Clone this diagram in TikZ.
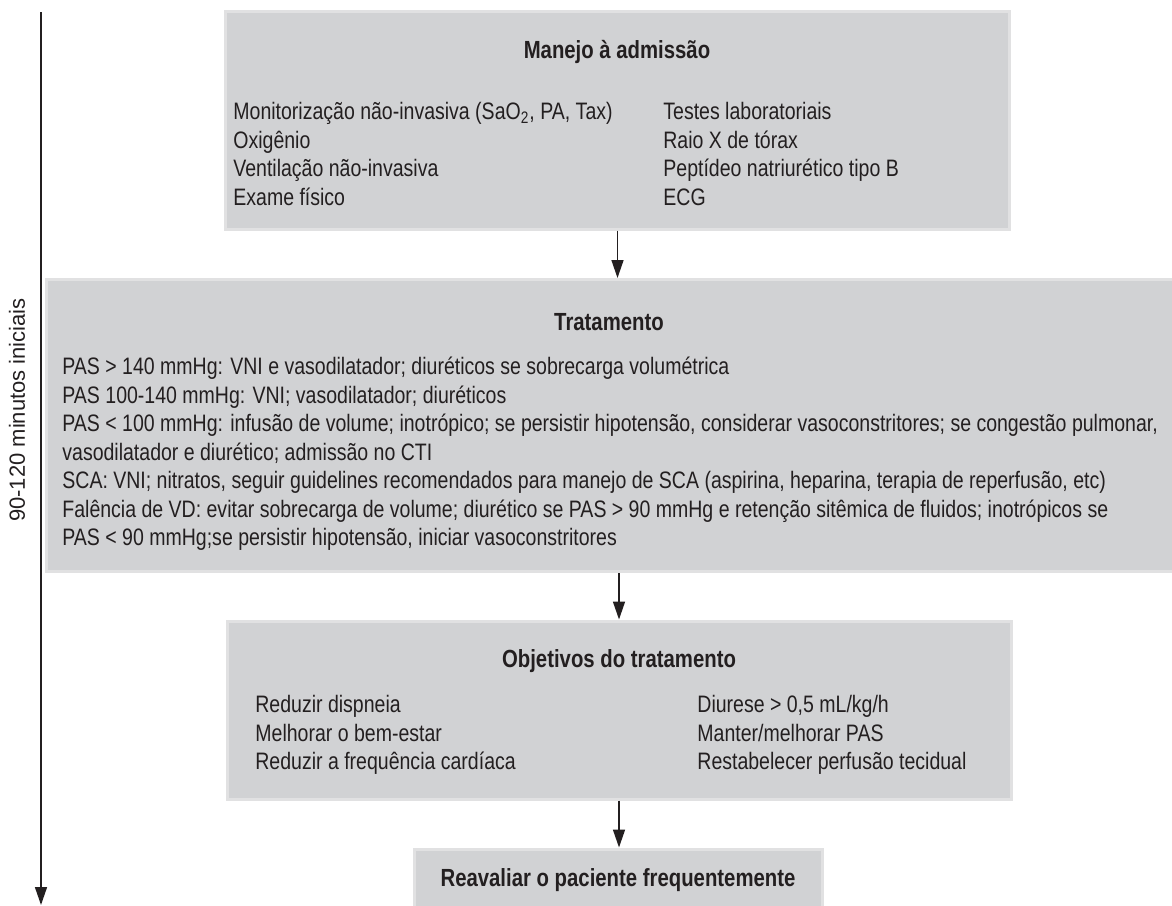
\documentclass[tikz,border=0pt]{standalone}
\usepackage{fontspec}
\setmainfont{Liberation Sans}[FakeStretch=0.82]
\newfontfamily\labelfont{Liberation Sans}
\usetikzlibrary{arrows.meta}
\definecolor{boxfill}{RGB}{209,210,212}
\definecolor{boxedge}{RGB}{225,225,226}
\definecolor{arrowgray}{RGB}{35,31,32}
\begin{document}
\begin{tikzpicture}
[x=0.5pt,y=-0.5pt,
  boxdecorate/.style={shape=rectangle,fill=boxfill,draw=boxedge,line width=1.5pt,inner sep=0pt},%
  titledecorate/.style={font=\bfseries\fontsize{12.4}{14}\selectfont,text=arrowgray,inner sep=0pt},%
  textdecorate/.style={font=\fontsize{11.9}{14.25}\selectfont,text=arrowgray,align=left,anchor=north west,inner sep=0pt},%
  arrowdecorate/.style={-{Triangle[length=9pt,width=6pt]},line width=0.75pt,draw=arrowgray}]
\useasboundingbox (0,0) rectangle (1172,905);
% boxes
\node (admissao) at (617.5,120) [boxdecorate,minimum width=392pt,minimum height=109pt] {};
\node (tratamento) at (613,425.5) [boxdecorate,minimum width=567pt,minimum height=146pt] {};
\node (objetivos) at (619,710) [boxdecorate,minimum width=392pt,minimum height=89pt] {};
\node (reavaliar) at (618,882) [boxdecorate,minimum width=204pt,minimum height=33pt] {};
% texts
\node (tituloadm) at (617,52) [titledecorate] {Manejo à admissão};
\node (admesq) at (233,102) [textdecorate] {Monitorização não-invasiva (SaO\textsubscript{2}, PA, Tax)\\Oxigênio\\Ventilação não-invasiva\\Exame físico};
\node (admdir) at (663,102) [textdecorate] {Testes laboratoriais\\Raio X de tórax\\Peptídeo natriurético tipo B\\ECG};
\node (titulotrat) at (609,322) [titledecorate] {Tratamento};
\node (tratlista) at (62,357) [textdecorate] {PAS > 140 mmHg: VNI e vasodilatador; diuréticos se sobrecarga volumétrica\\
PAS 100-140 mmHg: VNI; vasodilatador; diuréticos\\
PAS < 100 mmHg: infusão de volume; inotrópico; se persistir hipotensão, considerar vasoconstritores; se congestão pulmonar,\\
vasodilatador e diurético; admissão no CTI\\
SCA: VNI; nitratos, seguir guidelines recomendados para manejo de SCA (aspirina, heparina, terapia de reperfusão, etc)\\
Falência de VD: evitar sobrecarga de volume; diurético se PAS > 90 mmHg e retenção sitêmica de fluidos; inotrópicos se\\
PAS < 90 mmHg;se persistir hipotensão, iniciar vasoconstritores};
\node (tituloobj) at (619,661) [titledecorate] {Objetivos do tratamento};
\node (objesq) at (255,695) [textdecorate] {Reduzir dispneia\\Melhorar o bem-estar\\Reduzir a frequência cardíaca};
\node (objdir) at (697,695) [textdecorate] {Diurese > 0,5 mL/kg/h\\Manter/melhorar PAS\\Restabelecer perfusão tecidual};
\node (tituloreav) at (618,880) [titledecorate] {Reavaliar o paciente frequentemente};
% time axis
\coordinate (eixoini) at (41,12);
\coordinate (eixofim) at (41,905);
\node (janela) at (17,410) [rotate=90,text=arrowgray,inner sep=0pt,font=\labelfont\fontsize{11}{13}\selectfont] {90-120 minutos iniciais};
% edges or lines
\path
(admissao.south) edge[arrowdecorate] (admissao.south |- tratamento.north)
(objetivos.north |- tratamento.south) edge[arrowdecorate] (objetivos.north)
(objetivos.south) edge[arrowdecorate] (objetivos.south |- reavaliar.north)
(eixoini) edge[arrowdecorate] (eixofim);
\end{tikzpicture}
\end{document}
